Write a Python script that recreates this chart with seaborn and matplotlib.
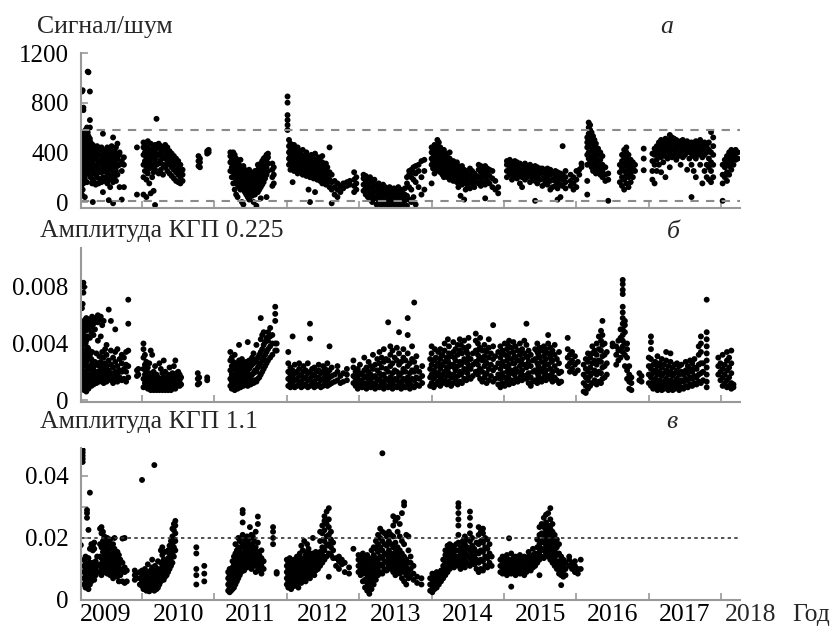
import matplotlib
matplotlib.use("Agg")
import matplotlib.pyplot as plt
import seaborn as sns
import pandas as pd
from matplotlib.ticker import FixedLocator, FixedFormatter, NullFormatter

# ---------------- data (time in years) ----------------
# Panel a: signal / noise
snr_cols = [
    (2009.16, [130, 210, 290, 360, 420, 480]),
    (2009.17, [60, 170, 250, 330, 390, 450, 520, 890]),
    (2009.18, [100, 200, 280, 350, 410, 470, 560, 900]),
    (2009.19, [150, 240, 320, 380, 440, 500, 740, 760]),
    (2009.21, [40, 190, 270, 340, 400, 460, 530]),
    (2009.22, [220, 300, 370, 430, 490, 580]),
    (2009.24, [160, 260, 330, 390, 450, 510, 600]),
    (2009.25, [1050, 230, 310, 380, 440, 500, 560]),
    (2009.26, [1045, 280, 350, 410, 470, 530]),
    (2009.28, [890, 660, 600, 250, 330, 400, 450, 510]),
    (2009.29, [200, 290, 360, 420, 480]),
    (2009.31, [150, 240, 310, 380, 440]),
    (2009.32, [0, 180, 260, 340, 410, 460]),
    (2009.34, [160, 230, 300, 370, 430]),
    (2009.36, [140, 220, 290, 350, 420]),
    (2009.38, [200, 270, 340, 400, 450]),
    (2009.40, [150, 240, 310, 380]),
    (2009.42, [180, 260, 330, 420]),
    (2009.44, [160, 240, 300, 370, 440]),
    (2009.46, [80, 200, 280, 350, 410, 550]),
    (2009.48, [170, 250, 320, 390]),
    (2009.50, [200, 270, 340, 420]),
    (2009.52, [150, 230, 300, 370, 440]),
    (2009.54, [15, 180, 260, 330, 400]),
    (2009.56, [120, 210, 290, 350, 420]),
    (2009.58, [190, 260, 320, 390, 450]),
    (2009.60, [-10, 160, 240, 310, 370, 520]),
    (2009.62, [200, 280, 340, 410]),
    (2009.64, [170, 250, 320, 380, 440]),
    (2009.66, [220, 290, 350, 470]),
    (2009.69, [120, 300, 380, 400]),
    (2009.72, [20, 250, 330]),
    (2009.75, [120, 300, 360]),
    (2009.93, [440, 60]),
    (2010.02, [60, 200, 300, 380, 440, 480]),
    (2010.04, [250, 330, 400, 460]),
    (2010.06, [40, 180, 290, 360, 420]),
    (2010.08, [230, 310, 380, 440, 490]),
    (2010.10, [150, 270, 340, 400]),
    (2010.12, [70, 300, 360, 420, 470]),
    (2010.14, [200, 280, 350, 410]),
    (2010.16, [90, 240, 320, 380, 440]),
    (2010.18, [-24, 260, 340, 400, 460]),
    (2010.20, [670, 300, 370, 430]),
    (2010.23, [230, 310, 380, 440, 470]),
    (2010.26, [260, 340, 400, 450]),
    (2010.29, [220, 300, 370, 420]),
    (2010.32, [280, 350, 410, 460]),
    (2010.35, [250, 320, 390, 440]),
    (2010.38, [230, 300, 360, 410]),
    (2010.41, [210, 280, 340, 390]),
    (2010.44, [190, 260, 320, 370]),
    (2010.47, [170, 240, 300, 350]),
    (2010.50, [160, 220, 270, 330]),
    (2010.53, [150, 200, 250, 300]),
    (2010.56, [170, 220, 260]),
    (2010.78, [290, 330, 370]),
    (2010.80, [280, 320, 350]),
    (2010.90, [390, 410]),
    (2010.92, [400, 420]),
    (2011.22, [250, 320, 370, 400]),
    (2011.24, [200, 280, 340, 390]),
    (2011.26, [150, 240, 300, 360, 400]),
    (2011.28, [100, 200, 260, 320, 380]),
    (2011.30, [60, 170, 230, 290, 350]),
    (2011.32, [40, 140, 200, 260, 320]),
    (2011.34, [120, 180, 240, 300]),
    (2011.36, [100, 160, 220, 280, 340]),
    (2011.38, [0, 130, 190, 250]),
    (2011.40, [-20, 110, 170, 230, 290]),
    (2011.42, [80, 140, 200, 260]),
    (2011.44, [60, 120, 180, 240]),
    (2011.46, [40, 100, 160, 220]),
    (2011.48, [20, 90, 150, 210, 260]),
    (2011.50, [70, 130, 190, 240]),
    (2011.52, [50, 110, 170, 230]),
    (2011.54, [0, 90, 150, 210]),
    (2011.56, [60, 130, 190, 250]),
    (2011.58, [-30, 100, 160, 220]),
    (2011.60, [80, 140, 200, 260, 300]),
    (2011.62, [100, 170, 230, 280]),
    (2011.64, [30, 120, 190, 250, 310]),
    (2011.66, [140, 210, 270, 330]),
    (2011.68, [160, 230, 290, 350]),
    (2011.70, [190, 250, 310, 360]),
    (2011.72, [40, 220, 280, 340, 380]),
    (2011.74, [250, 310, 360, 390]),
    (2011.80, [130, 200, 260, 310]),
    (2011.82, [150, 220, 280]),
    (2012.01, [580, 620, 660, 700, 800, 850]),
    (2012.03, [300, 350, 400, 450, 500]),
    (2012.05, [260, 320, 370, 420, 470]),
    (2012.08, [160, 280, 340, 380, 430]),
    (2012.10, [250, 300, 350, 400, 460]),
    (2012.13, [270, 320, 370, 420]),
    (2012.15, [230, 290, 340, 390, 440]),
    (2012.18, [260, 310, 360, 410]),
    (2012.20, [240, 290, 340, 380]),
    (2012.22, [220, 280, 330, 370, 420]),
    (2012.25, [250, 300, 350]),
    (2012.27, [210, 270, 320, 370, 400]),
    (2012.30, [100, 230, 290, 340]),
    (2012.32, [0, 200, 260, 310, 360]),
    (2012.34, [220, 280, 330, 380]),
    (2012.37, [190, 250, 300, 350]),
    (2012.39, [80, 210, 270, 320, 390]),
    (2012.42, [180, 240, 290, 340]),
    (2012.44, [200, 260, 310, 360]),
    (2012.46, [170, 230, 280, 330]),
    (2012.49, [150, 210, 270, 320, 370]),
    (2012.51, [180, 240, 290]),
    (2012.54, [140, 200, 260, 310]),
    (2012.56, [160, 220, 280]),
    (2012.59, [120, 180, 240, 440]),
    (2012.62, [-10, 100, 160, 220]),
    (2012.66, [60, 120, 170]),
    (2012.70, [40, 100, 150]),
    (2012.74, [80, 130]),
    (2012.78, [110, 150]),
    (2012.83, [130, 160]),
    (2012.87, [140, 170]),
    (2012.93, [80, 130, 180, 240]),
    (2012.96, [100, 150, 200]),
    (2013.06, [90, 140, 190, 220]),
    (2013.09, [60, 110, 160, 210]),
    (2013.12, [40, 90, 140, 190]),
    (2013.15, [20, 70, 120, 170, 200]),
    (2013.18, [0, 60, 110, 160]),
    (2013.21, [30, 80, 130, 180]),
    (2013.24, [-20, 40, 90, 140]),
    (2013.27, [10, 60, 110, 150]),
    (2013.30, [-30, 30, 80, 130]),
    (2013.33, [0, 50, 100, 140]),
    (2013.36, [-20, 20, 70, 120]),
    (2013.39, [10, 60, 100]),
    (2013.42, [-30, 30, 80, 120]),
    (2013.45, [0, 50, 90]),
    (2013.48, [-20, 20, 70, 110]),
    (2013.51, [10, 50, 100]),
    (2013.54, [-30, 30, 80, 120]),
    (2013.57, [0, 50, 100]),
    (2013.60, [-20, 30, 70]),
    (2013.63, [10, 60, 110]),
    (2013.66, [-30, 50, 150, 200]),
    (2013.69, [20, 120, 220, 250]),
    (2013.72, [0, 100, 200, 260]),
    (2013.75, [40, 180, 240, 280]),
    (2013.78, [-20, 160, 230, 290]),
    (2013.82, [120, 250, 300]),
    (2013.86, [60, 200, 330]),
    (2013.90, [100, 250, 340]),
    (2014.00, [150, 300, 350, 400, 440]),
    (2014.02, [270, 330, 390, 420]),
    (2014.04, [230, 300, 360, 410, 460]),
    (2014.06, [250, 320, 380, 430]),
    (2014.08, [280, 340, 400, 450, 500]),
    (2014.10, [260, 320, 370, 420, 480]),
    (2014.12, [240, 300, 350, 400, 440]),
    (2014.15, [220, 280, 340, 390]),
    (2014.17, [200, 260, 320, 370, 420]),
    (2014.20, [230, 290, 340, 390]),
    (2014.22, [200, 260, 310, 360]),
    (2014.25, [180, 240, 300, 350, 400]),
    (2014.27, [210, 270, 320]),
    (2014.30, [170, 230, 280, 330]),
    (2014.32, [190, 250, 300]),
    (2014.35, [160, 220, 270, 320]),
    (2014.37, [120, 180, 240, 290]),
    (2014.40, [50, 160, 210, 260]),
    (2014.42, [140, 190, 240, 290]),
    (2014.45, [20, 160, 210, 260]),
    (2014.47, [100, 150, 200, 250]),
    (2014.50, [130, 180, 230]),
    (2014.53, [110, 170, 220, 270]),
    (2014.56, [150, 200, 250]),
    (2014.59, [120, 180, 230]),
    (2014.62, [160, 210]),
    (2014.65, [150, 200, 260, 300]),
    (2014.68, [130, 190, 240, 290]),
    (2014.71, [160, 220, 270]),
    (2014.74, [30, 140, 200, 250, 290]),
    (2014.77, [170, 230, 270]),
    (2014.80, [150, 210, 260]),
    (2014.84, [120, 190, 250]),
    (2014.88, [100, 170]),
    (2014.92, [70, 120]),
    (2015.04, [200, 250, 300, 330]),
    (2015.08, [220, 270, 310, 340]),
    (2015.11, [180, 240, 290, 320]),
    (2015.15, [210, 260, 300, 330]),
    (2015.18, [190, 240, 280, 320]),
    (2015.22, [150, 220, 270, 310]),
    (2015.25, [120, 200, 250, 290]),
    (2015.29, [180, 230, 280, 310]),
    (2015.32, [200, 250, 290]),
    (2015.36, [160, 220, 260, 300]),
    (2015.39, [190, 240, 280]),
    (2015.43, [10, 170, 220, 260, 290]),
    (2015.46, [150, 200, 250, 280]),
    (2015.50, [180, 230, 270]),
    (2015.53, [130, 190, 240, 270]),
    (2015.57, [160, 210, 250]),
    (2015.60, [140, 190, 230, 270]),
    (2015.64, [100, 170, 220, 260]),
    (2015.67, [120, 180, 230]),
    (2015.71, [130, 170, 210, 250]),
    (2015.74, [20, 110, 160, 200, 240]),
    (2015.78, [40, 140, 190, 230]),
    (2015.81, [450, 130, 180, 220]),
    (2015.85, [110, 160, 200, 250]),
    (2015.92, [130, 170, 220]),
    (2015.96, [100, 150, 200]),
    (2016.00, [120, 180, 250]),
    (2016.04, [220, 260]),
    (2016.07, [280, 310]),
    (2016.15, [60, 170, 300, 380, 440, 480, 520]),
    (2016.17, [640, 600, 550, 500, 450, 400, 350]),
    (2016.19, [620, 580, 520, 460, 400, 330]),
    (2016.21, [560, 500, 440, 380, 320, 280]),
    (2016.23, [530, 480, 420, 360, 300, 250]),
    (2016.25, [500, 450, 390, 330, 270]),
    (2016.27, [470, 410, 350, 290, 230]),
    (2016.30, [430, 380, 320, 260]),
    (2016.33, [400, 340, 280, 220]),
    (2016.36, [370, 300, 250, 200]),
    (2016.40, [280, 220, 170]),
    (2016.44, [230, 180, 10]),
    (2016.60, [160, 240, 300]),
    (2016.63, [130, 200, 270, 330, 380]),
    (2016.66, [100, 180, 250, 310, 360, 420]),
    (2016.69, [150, 220, 290, 350, 400, 440]),
    (2016.72, [120, 200, 260, 320, 380]),
    (2016.75, [160, 230, 290, 340]),
    (2016.78, [200, 270, 320]),
    (2016.81, [250, 300]),
    (2016.93, [430, 350, 256]),
    (2017.05, [180, 250, 330, 390]),
    (2017.08, [150, 300, 380, 430]),
    (2017.11, [250, 340, 410, 450]),
    (2017.14, [300, 380, 440, 480]),
    (2017.17, [240, 360, 420, 470, 500]),
    (2017.20, [320, 400, 450, 490]),
    (2017.23, [200, 370, 430, 480, 510]),
    (2017.26, [350, 410, 460, 500]),
    (2017.29, [280, 390, 440, 490, 540]),
    (2017.32, [360, 420, 470, 520]),
    (2017.35, [380, 430, 480, 510]),
    (2017.38, [340, 410, 460, 500]),
    (2017.41, [370, 430, 470]),
    (2017.44, [300, 390, 440, 490]),
    (2017.47, [360, 410, 460, 500]),
    (2017.50, [380, 430, 470]),
    (2017.53, [260, 400, 450, 490]),
    (2017.56, [350, 420, 460]),
    (2017.59, [40, 300, 390, 440, 480]),
    (2017.62, [250, 370, 420, 470]),
    (2017.65, [200, 350, 410, 450, 490]),
    (2017.68, [380, 430, 470]),
    (2017.71, [300, 400, 450, 500]),
    (2017.74, [150, 360, 420, 470]),
    (2017.77, [250, 380, 440, 480]),
    (2017.80, [200, 300, 400, 450]),
    (2017.83, [180, 280, 350, 420, 480]),
    (2017.86, [160, 250, 320, 400, 563]),
    (2017.89, [200, 300, 380, 450, 520]),
    (2018.02, [10, 150, 220, 300]),
    (2018.05, [200, 280, 340]),
    (2018.08, [170, 240, 310, 370]),
    (2018.11, [220, 290, 350, 400]),
    (2018.14, [260, 330, 390, 420]),
    (2018.17, [300, 360, 410]),
    (2018.20, [340, 390, 420]),
    (2018.23, [350, 400]),
]

# Panel b: amplitude KGP 0.225 (units of 0.001)
amp225_cols = [
    (2009.16, [1.2, 1.6, 2.2, 3.0, 3.8, 4.5]),
    (2009.17, [0.9, 1.5, 2.1, 2.9, 3.6, 4.4, 5.1, 6.5]),
    (2009.18, [1.3, 1.9, 2.6, 3.3, 4.1, 4.8, 5.4, 6.8]),
    (2009.19, [1.0, 1.7, 2.4, 3.1, 3.9, 4.6, 5.2, 7.6, 8.3]),
    (2009.20, [0.7, 1.4, 2.0, 2.8, 3.5, 4.3, 5.0, 5.6, 8.0]),
    (2009.22, [1.1, 1.8, 2.5, 3.2, 4.0, 4.9, 5.7]),
    (2009.23, [0.6, 1.3, 2.0, 2.7, 3.4, 4.2, 5.3, 5.8]),
    (2009.25, [1.0, 1.6, 2.3, 3.0, 3.7, 4.5, 5.5]),
    (2009.26, [0.8, 1.5, 2.2, 2.9, 3.6, 5.0, 5.7]),
    (2009.28, [1.2, 1.8, 2.4, 3.2, 4.4, 5.3]),
    (2009.30, [1.0, 1.6, 2.2, 2.9, 4.8, 5.6]),
    (2009.31, [1.3, 1.9, 2.6, 3.4, 5.2, 5.9]),
    (2009.33, [1.1, 1.7, 2.3, 4.6, 5.4]),
    (2009.35, [1.4, 2.0, 2.7, 5.0, 5.8]),
    (2009.37, [1.2, 1.8, 2.5, 3.3, 5.6]),
    (2009.39, [1.5, 2.0, 2.6, 4.2, 5.5, 6.0]),
    (2009.41, [1.3, 1.8, 2.4, 3.1, 5.7]),
    (2009.43, [1.6, 2.1, 2.7, 4.5, 5.9]),
    (2009.45, [1.4, 1.9, 2.5, 3.4, 5.3]),
    (2009.47, [1.2, 1.7, 2.3, 3.0, 5.6]),
    (2009.49, [1.5, 2.0, 2.6, 3.6]),
    (2009.51, [1.3, 1.8, 2.4, 3.2, 3.9]),
    (2009.54, [1.6, 2.1, 2.8, 6.4]),
    (2009.57, [1.4, 1.9, 2.5, 3.5, 5.6]),
    (2009.60, [1.2, 1.7, 2.3, 3.0]),
    (2009.63, [1.5, 2.0, 2.7, 3.4, 5.0]),
    (2009.66, [1.3, 1.8, 2.4, 3.6]),
    (2009.69, [1.6, 2.1, 2.9]),
    (2009.72, [1.4, 2.0, 2.6, 3.2]),
    (2009.75, [1.5, 2.2, 3.0]),
    (2009.78, [1.3, 2.0, 2.5, 3.4]),
    (2009.81, [1.6, 2.4, 3.5, 5.4, 7.1]),
    (2009.93, [1.7, 2.1]),
    (2009.95, [1.8, 2.2]),
    (2010.02, [0.9, 1.5, 2.2, 3.0, 3.6, 4.0]),
    (2010.04, [1.2, 1.8, 2.5, 3.2]),
    (2010.06, [1.0, 1.4, 2.0, 2.7]),
    (2010.08, [0.8, 1.2, 1.7, 2.3]),
    (2010.10, [0.9, 1.3, 1.9, 2.6]),
    (2010.12, [0.7, 1.1, 1.5, 3.5]),
    (2010.14, [0.8, 1.2, 1.8, 3.2]),
    (2010.16, [0.7, 1.0, 1.4, 2.0]),
    (2010.18, [0.8, 1.1, 1.6, 2.4]),
    (2010.20, [0.7, 1.0, 1.3, 1.8]),
    (2010.22, [0.8, 1.2, 1.6]),
    (2010.24, [0.7, 1.0, 1.4, 2.6]),
    (2010.26, [0.8, 1.1, 1.5, 2.2]),
    (2010.28, [0.7, 1.0, 1.3, 1.9]),
    (2010.30, [0.8, 1.2, 1.6, 2.8]),
    (2010.32, [0.7, 1.0, 1.4, 2.0]),
    (2010.34, [0.8, 1.1, 1.5]),
    (2010.36, [0.7, 1.0, 1.3, 1.8]),
    (2010.38, [0.8, 1.2, 1.6, 2.3]),
    (2010.40, [0.7, 1.0, 1.4]),
    (2010.42, [0.8, 1.1, 1.5, 1.9]),
    (2010.44, [0.9, 1.2, 1.6, 2.4]),
    (2010.46, [0.8, 1.3, 1.7, 2.8]),
    (2010.48, [1.0, 1.4, 1.9]),
    (2010.50, [1.1, 1.5, 2.0]),
    (2010.52, [1.0, 1.4, 1.8]),
    (2010.54, [1.1, 1.6]),
    (2010.77, [1.1, 1.5, 1.9]),
    (2010.79, [1.2, 1.6]),
    (2010.90, [1.4, 1.6]),
    (2011.22, [1.0, 1.5, 2.1, 2.8, 3.4]),
    (2011.24, [0.8, 1.3, 1.8, 2.4, 3.0]),
    (2011.26, [1.1, 1.6, 2.2, 2.7]),
    (2011.28, [0.7, 1.2, 1.7, 2.3, 3.2]),
    (2011.30, [1.0, 1.5, 2.0, 2.6]),
    (2011.32, [0.8, 1.3, 1.9, 2.4]),
    (2011.34, [1.1, 1.6, 2.1, 2.8, 3.9]),
    (2011.36, [0.9, 1.4, 1.9, 2.5]),
    (2011.38, [1.2, 1.7, 2.2, 2.9]),
    (2011.40, [1.0, 1.5, 2.0, 2.6]),
    (2011.42, [1.3, 1.8, 2.3]),
    (2011.44, [1.1, 1.6, 2.1, 2.7]),
    (2011.46, [1.0, 1.4, 1.9, 2.5, 4.1]),
    (2011.48, [1.2, 1.7, 2.2, 2.8]),
    (2011.50, [1.1, 1.6, 2.4]),
    (2011.52, [1.3, 1.8, 2.5, 3.0]),
    (2011.54, [1.2, 1.9, 2.6, 3.3]),
    (2011.56, [1.4, 2.1, 2.8]),
    (2011.58, [1.3, 2.0, 2.7, 3.9]),
    (2011.60, [1.5, 2.3, 3.0]),
    (2011.62, [1.6, 2.4, 3.2]),
    (2011.64, [1.8, 2.6, 3.4, 4.3, 5.8]),
    (2011.66, [2.0, 2.8, 3.6, 4.6]),
    (2011.68, [2.2, 3.0, 3.9, 4.8]),
    (2011.70, [2.4, 3.2, 4.1]),
    (2011.72, [2.6, 3.4, 4.4]),
    (2011.74, [2.8, 3.6, 4.2, 4.8]),
    (2011.77, [3.0, 3.8, 4.5, 5.1]),
    (2011.80, [3.2, 4.0, 4.6]),
    (2011.84, [3.5, 4.0, 5.6, 6.1, 6.6]),
    (2011.86, [3.5, 4.0]),
    (2012.02, [1.0, 1.5, 2.0, 2.6, 3.4]),
    (2012.05, [0.9, 1.3, 1.8, 2.3]),
    (2012.08, [1.1, 1.6, 2.1, 4.5]),
    (2012.11, [0.9, 1.4, 1.9, 2.5]),
    (2012.14, [1.0, 1.5, 2.0]),
    (2012.17, [1.2, 1.7, 2.2, 2.6]),
    (2012.20, [0.9, 1.3, 1.8]),
    (2012.23, [1.0, 1.5, 2.0, 2.4]),
    (2012.26, [1.1, 1.6, 2.1]),
    (2012.29, [0.9, 1.4, 1.9, 2.6]),
    (2012.32, [1.0, 1.5, 2.0, 4.35, 5.4]),
    (2012.35, [1.2, 1.7, 2.2]),
    (2012.38, [0.9, 1.3, 1.8, 2.3]),
    (2012.41, [1.0, 1.5, 2.0]),
    (2012.44, [1.1, 1.6, 2.1, 2.5]),
    (2012.47, [0.9, 1.4, 1.9]),
    (2012.50, [1.0, 1.5, 2.0, 2.4]),
    (2012.53, [1.2, 1.7, 2.2]),
    (2012.56, [1.0, 1.4, 1.9, 2.6]),
    (2012.59, [1.1, 1.6, 2.1, 3.8]),
    (2012.62, [1.2, 1.7, 2.3]),
    (2012.66, [1.3, 1.8]),
    (2012.70, [1.4, 2.0, 2.4]),
    (2012.74, [1.2, 1.7]),
    (2012.78, [1.3, 1.9]),
    (2012.83, [1.4, 1.8, 2.2]),
    (2012.92, [1.2, 1.7, 2.3, 2.8]),
    (2012.95, [1.0, 1.5, 2.0]),
    (2012.98, [0.8, 1.2, 1.7, 2.2]),
    (2013.01, [1.0, 1.4, 1.9, 2.5]),
    (2013.04, [0.9, 1.3, 1.8]),
    (2013.07, [1.1, 1.6, 2.1, 3.0]),
    (2013.10, [0.8, 1.2, 1.7, 2.3]),
    (2013.13, [1.0, 1.5, 2.0, 2.7]),
    (2013.16, [0.9, 1.3, 1.8, 2.4]),
    (2013.19, [1.1, 1.6, 2.2, 3.2]),
    (2013.22, [0.8, 1.2, 1.7, 2.5]),
    (2013.25, [1.0, 1.5, 2.1, 2.9]),
    (2013.28, [0.9, 1.4, 1.9, 2.6, 3.4]),
    (2013.31, [1.1, 1.7, 2.3, 3.0]),
    (2013.34, [0.8, 1.3, 1.8, 2.7, 3.6]),
    (2013.37, [1.0, 1.5, 2.2, 2.9]),
    (2013.40, [0.9, 1.4, 2.0, 2.8, 5.5]),
    (2013.43, [1.1, 1.6, 2.4, 3.2, 3.8]),
    (2013.46, [0.8, 1.3, 1.9, 2.6, 3.5]),
    (2013.49, [1.0, 1.5, 2.1, 3.0]),
    (2013.52, [0.9, 1.4, 2.0, 2.8, 3.7]),
    (2013.55, [1.1, 1.7, 2.5, 3.3, 4.8]),
    (2013.58, [0.8, 1.3, 1.9, 2.7]),
    (2013.61, [1.0, 1.5, 2.2, 3.0, 3.6]),
    (2013.64, [0.9, 1.4, 2.0, 2.8]),
    (2013.67, [1.1, 1.6, 2.4, 3.3, 4.6, 5.8]),
    (2013.70, [0.8, 1.3, 1.9, 2.6]),
    (2013.73, [1.0, 1.5, 2.1, 2.9, 3.8]),
    (2013.76, [0.9, 1.4, 2.0, 2.7, 6.9]),
    (2013.79, [1.1, 1.6, 2.3, 3.1]),
    (2013.83, [1.0, 1.5, 2.0]),
    (2013.87, [1.2, 1.7, 2.4]),
    (2013.98, [1.0, 1.6, 2.2, 2.9]),
    (2014.00, [1.2, 1.8, 2.5, 3.3, 3.8]),
    (2014.03, [0.9, 1.5, 2.1, 2.8]),
    (2014.045, [2.0, 2.9, 3.6]),
    (2014.06, [1.1, 1.7, 2.4, 3.0]),
    (2014.09, [1.3, 1.9, 2.6, 3.4]),
    (2014.12, [1.0, 1.6, 2.2, 2.9, 3.6]),
    (2014.135, [1.5, 2.4, 3.1]),
    (2014.15, [1.2, 1.8, 2.5, 3.2]),
    (2014.18, [1.4, 2.0, 2.7, 3.5, 4.0]),
    (2014.21, [1.1, 1.7, 2.3, 3.0]),
    (2014.225, [2.2, 2.8, 4.3]),
    (2014.24, [1.3, 1.9, 2.6, 3.3, 3.8]),
    (2014.27, [1.0, 1.6, 2.4, 3.1]),
    (2014.30, [1.2, 1.8, 2.5, 3.4, 4.1]),
    (2014.315, [1.6, 2.3, 3.0]),
    (2014.33, [1.4, 2.1, 2.8, 3.6]),
    (2014.36, [1.1, 1.7, 2.4, 3.2, 3.9]),
    (2014.39, [1.3, 2.0, 2.7, 3.5, 4.3]),
    (2014.405, [1.8, 2.5, 3.9]),
    (2014.42, [1.2, 1.9, 2.6, 3.3]),
    (2014.45, [1.5, 2.2, 2.9, 3.7, 4.2]),
    (2014.48, [1.4, 2.1, 2.8, 3.5]),
    (2014.495, [1.9, 2.6, 3.3]),
    (2014.51, [1.6, 2.3, 3.0, 3.8, 4.4]),
    (2014.54, [1.5, 2.2, 2.9]),
    (2014.57, [1.7, 2.5, 3.3]),
    (2014.61, [2.0, 2.7, 3.5, 4.2, 4.7]),
    (2014.64, [1.8, 2.5, 3.2, 4.0]),
    (2014.655, [2.1, 2.9, 3.6]),
    (2014.67, [1.5, 2.2, 3.0, 3.7, 4.4]),
    (2014.70, [1.3, 2.0, 2.8, 3.5]),
    (2014.73, [1.6, 2.4, 3.1, 3.9]),
    (2014.745, [1.8, 2.7, 3.5]),
    (2014.76, [1.2, 1.9, 2.6, 3.4]),
    (2014.79, [1.4, 2.2, 3.0, 3.7, 4.3]),
    (2014.82, [1.7, 2.5, 3.3]),
    (2014.85, [1.3, 2.1, 2.9, 3.8, 5.3]),
    (2014.88, [1.5, 2.3, 3.1]),
    (2014.92, [1.1, 1.8, 2.6, 3.4]),
    (2014.95, [0.9, 1.5, 2.2, 3.0, 3.8]),
    (2014.965, [1.7, 2.5, 3.3]),
    (2014.98, [1.2, 1.9, 2.7, 3.5]),
    (2015.01, [1.0, 1.6, 2.4, 3.2, 4.0]),
    (2015.04, [1.3, 2.0, 2.8, 3.6]),
    (2015.055, [1.6, 2.3, 3.0, 3.9]),
    (2015.07, [1.1, 1.8, 2.5, 3.3, 4.2]),
    (2015.10, [1.4, 2.1, 2.9, 3.7]),
    (2015.13, [1.2, 1.9, 2.6, 3.4, 4.1]),
    (2015.145, [1.8, 2.6, 3.1]),
    (2015.16, [1.5, 2.2, 3.0, 3.8]),
    (2015.19, [1.3, 2.0, 2.8, 3.5]),
    (2015.22, [1.6, 2.4, 3.2, 4.0]),
    (2015.235, [1.9, 2.7, 3.5]),
    (2015.25, [1.4, 2.1, 2.9, 3.6]),
    (2015.28, [1.7, 2.5, 3.3, 4.2]),
    (2015.31, [1.5, 2.3, 3.1, 3.9, 5.4]),
    (2015.325, [1.8, 2.5, 3.0]),
    (2015.34, [1.2, 1.9, 2.7, 3.5]),
    (2015.37, [1.0, 1.6, 2.4, 3.2]),
    (2015.40, [1.3, 2.0, 2.8]),
    (2015.43, [1.4, 2.1, 2.9, 3.6]),
    (2015.46, [1.2, 1.9, 2.6, 3.4, 4.0]),
    (2015.475, [1.7, 2.4, 3.2]),
    (2015.49, [1.5, 2.2, 3.0, 3.7]),
    (2015.52, [1.3, 2.0, 2.7, 3.5]),
    (2015.55, [1.6, 2.3, 3.1, 3.8]),
    (2015.565, [1.9, 2.6, 3.4]),
    (2015.58, [1.4, 2.1, 2.9, 3.6]),
    (2015.61, [1.7, 2.5, 3.3, 4.0, 4.6]),
    (2015.64, [1.5, 2.2, 3.0, 3.7]),
    (2015.655, [1.8, 2.7, 3.3]),
    (2015.67, [1.3, 2.0, 2.8, 3.5]),
    (2015.70, [1.6, 2.4, 3.2, 3.9]),
    (2015.73, [1.4, 2.1, 2.9]),
    (2015.76, [1.2, 1.9, 2.6, 3.4]),
    (2015.79, [1.3, 2.0]),
    (2015.88, [2.4, 3.0, 3.6, 4.4]),
    (2015.91, [2.0, 2.6, 3.2]),
    (2015.94, [2.2, 2.8, 3.4]),
    (2015.98, [1.9, 2.5, 3.1]),
    (2016.02, [2.1, 2.7]),
    (2016.10, [0.6, 1.2, 1.8, 2.5]),
    (2016.13, [0.5, 1.0, 1.6, 2.2, 2.9]),
    (2016.16, [0.8, 1.4, 2.0, 2.7, 3.3]),
    (2016.19, [1.0, 1.7, 2.3, 3.0]),
    (2016.22, [1.2, 1.9, 2.6, 3.3, 3.8]),
    (2016.25, [1.4, 2.1, 2.8, 3.5]),
    (2016.28, [1.1, 1.8, 2.5, 3.2, 4.0]),
    (2016.31, [1.3, 2.0, 2.8, 3.6, 4.5]),
    (2016.34, [1.2, 1.9, 2.7, 3.5, 4.2, 4.9]),
    (2016.36, [1.5, 2.3, 3.1, 3.9, 4.6, 5.6]),
    (2016.39, [1.6, 2.4, 3.2, 4.0]),
    (2016.42, [1.8, 2.6, 3.4]),
    (2016.50, [3.8, 4.0]),
    (2016.55, [2.5, 3.2, 3.8]),
    (2016.58, [2.8, 3.5, 4.2]),
    (2016.61, [3.0, 3.6, 4.4, 5.0]),
    (2016.64, [3.4, 3.8, 4.2, 4.6, 5.0, 5.4, 5.8, 6.2, 6.6, 7.5, 7.8, 8.2, 8.5]),
    (2016.67, [2.4, 3.2, 4.0, 4.8, 5.3, 5.6]),
    (2016.70, [1.5, 2.1, 3.0, 3.6, 4.0]),
    (2016.73, [0.8, 1.3, 1.8, 2.4]),
    (2016.76, [0.7, 1.2, 1.6]),
    (2016.87, [1.4, 1.9]),
    (2016.90, [1.3, 1.7]),
    (2017.00, [1.2, 1.8, 2.4, 3.0]),
    (2017.03, [1.0, 1.6, 2.2, 2.9, 3.6, 4.1, 4.5]),
    (2017.06, [0.8, 1.3, 1.9, 2.5]),
    (2017.09, [1.0, 1.5, 2.1, 2.7]),
    (2017.12, [0.7, 1.2, 1.8, 2.4, 3.1]),
    (2017.15, [0.9, 1.4, 2.0, 2.6]),
    (2017.18, [0.7, 1.1, 1.7, 2.3, 2.9]),
    (2017.21, [0.8, 1.3, 1.9, 2.5]),
    (2017.24, [1.0, 1.5, 2.1, 2.8, 3.4]),
    (2017.27, [0.7, 1.2, 1.8, 2.4]),
    (2017.30, [0.9, 1.4, 2.0, 2.7, 3.3]),
    (2017.33, [0.7, 1.1, 1.7, 2.3]),
    (2017.36, [0.8, 1.3, 1.9, 2.5]),
    (2017.39, [1.0, 1.5, 2.1, 2.6]),
    (2017.42, [0.7, 1.2, 1.8, 2.4]),
    (2017.45, [0.9, 1.4, 2.0, 2.5]),
    (2017.48, [0.8, 1.3, 1.8]),
    (2017.51, [1.0, 1.5, 2.1, 2.7]),
    (2017.54, [0.9, 1.4, 1.9, 2.4]),
    (2017.57, [1.1, 1.6, 2.2, 2.8]),
    (2017.60, [1.0, 1.5, 2.0, 2.6]),
    (2017.63, [1.2, 1.7, 2.3, 2.9]),
    (2017.66, [1.1, 1.6, 2.2]),
    (2017.69, [1.3, 1.8, 2.5, 3.2, 3.8]),
    (2017.72, [1.2, 1.9, 2.6, 3.4, 4.0, 4.5]),
    (2017.75, [1.4, 2.0, 2.6]),
    (2017.80, [0.9, 1.3, 1.8, 2.3, 2.8, 3.3, 3.8, 4.3, 4.8, 7.1]),
    (2017.96, [1.8, 2.4, 3.0]),
    (2017.99, [1.4, 2.0, 2.6]),
    (2018.02, [1.0, 1.6, 2.2, 3.2]),
    (2018.05, [1.2, 1.8, 2.5]),
    (2018.08, [0.9, 1.4, 2.1, 2.8, 3.4]),
    (2018.11, [1.0, 1.6, 2.3, 3.0]),
    (2018.14, [0.8, 1.2, 1.9, 2.6, 3.5]),
    (2018.17, [0.9, 1.1]),
]

# Panel c: amplitude KGP 1.1 (units of 0.001)
amp11_cols = [
    (2009.155, [17.7]),
    (2009.18, [48.4, 47.5, 46.5, 45.5, 44.5]),
    (2009.20, [5.0, 7.0, 9.0, 11.0, 13.0]),
    (2009.22, [4.0, 6.0, 8.0, 10.0, 12.0, 14.0]),
    (2009.24, [5.5, 7.5, 9.5, 11.5, 29.0, 28.0, 26.5]),
    (2009.26, [3.5, 6.0, 8.5, 10.5, 13.5, 22.6]),
    (2009.28, [5.0, 7.0, 9.0, 12.0, 16.5, 34.6]),
    (2009.30, [6.0, 8.0, 10.5, 17.0, 18.0]),
    (2009.32, [7.0, 9.5, 12.0, 16.0, 17.5]),
    (2009.34, [6.5, 8.5, 11.0, 16.5, 18.5]),
    (2009.36, [8.0, 10.0, 12.5]),
    (2009.38, [9.0, 11.0, 14.0]),
    (2009.42, [9.0, 11.5, 14.0, 18.0, 23.0]),
    (2009.44, [8.0, 10.5, 13.5, 17.0, 21.5, 23.5]),
    (2009.46, [10.0, 12.5, 15.5, 19.0, 22.0]),
    (2009.48, [9.0, 11.0, 14.5, 17.5, 20.5]),
    (2009.50, [10.5, 13.0, 16.0, 19.0]),
    (2009.52, [8.5, 11.5, 14.0, 17.0, 20.0]),
    (2009.54, [9.5, 12.0, 15.0, 18.5]),
    (2009.56, [8.0, 10.5, 13.0, 16.5, 19.5]),
    (2009.58, [9.0, 11.5, 14.5, 17.5]),
    (2009.60, [7.0, 9.5, 12.0, 15.0, 18.0]),
    (2009.62, [8.5, 10.5, 13.5, 16.5, 20.0]),
    (2009.64, [9.0, 11.0, 14.0]),
    (2009.66, [7.5, 10.0, 12.5, 15.5]),
    (2009.68, [6.0, 9.0, 11.5, 14.5]),
    (2009.70, [8.0, 10.0, 13.0]),
    (2009.73, [6.0, 9.5, 12.0, 19.8]),
    (2009.76, [5.5, 9.0, 10.5, 20.0]),
    (2009.79, [6.0, 9.5]),
    (2009.90, [6.5, 8.0, 9.5]),
    (2009.92, [7.0, 8.5]),
    (2009.97, [5.0, 7.0, 9.0]),
    (2010.00, [4.5, 6.0, 7.5, 9.5, 38.7]),
    (2010.02, [3.5, 5.5, 7.0, 8.5]),
    (2010.04, [4.0, 6.0, 8.0, 10.0]),
    (2010.06, [3.0, 5.0, 6.5, 8.5]),
    (2010.08, [4.5, 6.0, 7.5, 9.0, 11.5]),
    (2010.10, [2.8, 4.5, 6.5, 8.0]),
    (2010.12, [3.5, 5.5, 7.0, 9.5]),
    (2010.14, [4.0, 6.0, 8.0, 10.5, 13.0]),
    (2010.17, [3.0, 5.0, 7.0, 9.0, 43.5]),
    (2010.18, [4.5, 6.5, 8.5, 11.0]),
    (2010.20, [3.5, 5.5, 7.5, 9.5]),
    (2010.22, [4.0, 6.0, 8.0, 10.0, 12.5]),
    (2010.24, [5.0, 7.0, 9.0]),
    (2010.26, [6.0, 8.0, 10.0, 12.0, 16.0]),
    (2010.28, [7.0, 9.0, 11.5, 14.5, 17.0]),
    (2010.30, [6.5, 8.5, 10.5, 13.0]),
    (2010.32, [7.5, 9.5, 12.0, 15.5]),
    (2010.34, [8.0, 10.0, 12.5]),
    (2010.36, [9.0, 11.0, 13.5, 16.0]),
    (2010.38, [10.0, 12.5, 15.0, 17.5]),
    (2010.40, [11.0, 13.5, 16.5, 19.0]),
    (2010.42, [12.0, 15.0, 18.0, 20.5, 23.0]),
    (2010.44, [14.0, 17.0, 19.5, 22.5, 24.5]),
    (2010.46, [16.0, 19.0, 21.5, 24.0, 25.5]),
    (2010.75, [5.0, 8.0, 10.0, 15.0, 17.0]),
    (2010.86, [6.0, 8.5, 11.0]),
    (2011.19, [3.0, 5.0, 7.0, 9.0]),
    (2011.21, [2.5, 4.0, 6.0, 8.0, 10.0]),
    (2011.23, [3.0, 5.0, 7.5, 9.5]),
    (2011.25, [3.5, 5.5, 8.0, 10.5, 12.5]),
    (2011.27, [4.0, 6.5, 9.0, 11.5, 14.0]),
    (2011.29, [5.0, 7.5, 10.0, 12.5, 15.0, 18.0]),
    (2011.31, [6.0, 8.5, 11.0, 13.5, 16.0]),
    (2011.33, [7.0, 9.5, 12.0, 14.5, 17.0, 20.0]),
    (2011.35, [8.0, 10.5, 13.0, 16.0, 19.0]),
    (2011.37, [9.0, 11.5, 14.0, 17.0, 20.0]),
    (2011.39, [10.0, 12.5, 15.0, 18.0, 21.0, 25.0, 28.0, 29.0]),
    (2011.41, [9.5, 12.0, 14.5, 17.5, 20.0]),
    (2011.43, [11.0, 13.5, 16.0, 19.0]),
    (2011.45, [10.5, 13.0, 15.5, 18.5, 20.5]),
    (2011.47, [12.0, 14.5, 17.0, 19.5]),
    (2011.49, [11.5, 14.0, 16.5, 20.0, 23.5]),
    (2011.51, [10.0, 13.0, 15.5, 18.0, 21.0]),
    (2011.53, [12.5, 15.0, 17.5, 20.5]),
    (2011.55, [11.0, 13.5, 16.0, 19.0]),
    (2011.57, [9.0, 12.0, 14.5, 17.0, 22.0]),
    (2011.60, [10.5, 13.0, 15.5, 18.5, 24.5, 26.9]),
    (2011.62, [9.5, 12.0, 14.5]),
    (2011.65, [8.5, 11.0, 13.5, 16.0]),
    (2011.68, [10.0, 12.5]),
    (2011.81, [18.0, 20.0, 22.0, 23.5]),
    (2011.86, [9.0, 8.5]),
    (2012.00, [5.0, 7.0, 9.0, 11.0, 13.0]),
    (2012.02, [4.0, 6.0, 8.0, 10.0, 12.0]),
    (2012.04, [5.5, 7.5, 9.5, 11.5, 13.5]),
    (2012.06, [3.5, 6.0, 8.5, 10.5]),
    (2012.08, [5.0, 7.0, 9.0, 11.0, 12.5]),
    (2012.10, [4.5, 6.5, 8.5, 10.0, 13.0]),
    (2012.12, [6.0, 8.0, 10.0, 12.0]),
    (2012.14, [5.0, 7.5, 9.5, 11.5, 14.0]),
    (2012.16, [4.0, 6.5, 8.5, 10.5, 12.5]),
    (2012.18, [6.0, 8.0, 10.0, 12.0, 15.0]),
    (2012.20, [5.5, 7.5, 9.5, 11.5, 13.5, 17.5]),
    (2012.22, [6.5, 8.5, 10.5, 12.5, 16.0]),
    (2012.24, [7.0, 9.0, 11.0, 13.0, 19.0]),
    (2012.26, [6.0, 8.5, 10.5, 12.5, 14.5]),
    (2012.28, [7.5, 9.5, 11.5, 13.5, 15.5, 18.0]),
    (2012.30, [8.0, 10.0, 12.0, 14.0, 16.5]),
    (2012.32, [7.0, 9.5, 11.5, 13.5, 15.0]),
    (2012.34, [8.5, 10.5, 12.5, 14.5]),
    (2012.36, [9.0, 11.0, 13.0, 15.0, 20.0]),
    (2012.38, [8.0, 10.0, 12.0, 14.0]),
    (2012.40, [9.5, 11.5, 13.5, 15.5]),
    (2012.43, [10.0, 12.0, 14.0]),
    (2012.46, [11.0, 13.0, 15.5, 19.0, 22.0]),
    (2012.49, [12.0, 14.5, 17.0, 21.5, 24.0]),
    (2012.52, [13.0, 16.0, 19.0, 22.5, 25.5, 27.0]),
    (2012.55, [14.0, 17.5, 20.5, 24.5, 28.5]),
    (2012.58, [7.5, 15.0, 18.0, 21.0, 23.5, 26.0, 29.6]),
    (2012.61, [14.5, 17.0, 19.5, 22.0]),
    (2012.64, [13.5, 16.0, 18.5]),
    (2012.68, [11.0, 13.5]),
    (2012.72, [10.0, 12.5, 14.0]),
    (2012.76, [11.5, 13.0]),
    (2012.80, [9.0, 12.0]),
    (2012.86, [8.5, 10.5]),
    (2012.92, [16.5]),
    (2012.99, [9.0, 11.0, 13.0, 14.5]),
    (2013.02, [8.0, 10.0, 12.0, 14.0]),
    (2013.05, [6.0, 8.5, 10.5, 12.5, 15.0]),
    (2013.08, [4.0, 6.5, 9.0, 11.0, 13.5]),
    (2013.11, [3.0, 5.5, 8.0, 10.0, 12.0, 14.5]),
    (2013.14, [2.0, 4.5, 7.0, 9.5, 11.5, 13.5]),
    (2013.17, [3.5, 6.0, 8.5, 10.5, 13.0, 16.0]),
    (2013.20, [5.0, 7.5, 10.0, 12.0, 14.5, 17.0]),
    (2013.23, [6.5, 9.0, 11.5, 13.5, 16.5, 19.0]),
    (2013.26, [8.0, 10.5, 13.0, 15.5, 18.0, 21.0]),
    (2013.29, [9.0, 11.5, 14.0, 17.0, 20.0, 23.0]),
    (2013.32, [8.5, 11.0, 13.5, 16.0, 19.0, 22.0, 47.3]),
    (2013.35, [10.0, 12.5, 15.0, 18.0, 21.5]),
    (2013.38, [9.5, 12.0, 14.5, 17.5, 20.5]),
    (2013.41, [11.0, 13.5, 16.0, 19.0, 22.0]),
    (2013.44, [10.0, 12.5, 15.0, 18.0, 21.0]),
    (2013.47, [9.0, 11.5, 14.0, 17.0, 20.5, 24.0, 27.0]),
    (2013.50, [8.0, 10.5, 13.0, 15.5, 18.5, 25.5]),
    (2013.53, [9.5, 12.0, 14.5, 17.0, 22.0, 26.5]),
    (2013.56, [8.5, 11.0, 13.5, 16.0, 20.5, 24.5]),
    (2013.59, [7.0, 10.0, 12.5, 15.0, 19.0, 28.0]),
    (2013.62, [6.0, 9.0, 11.5, 14.0, 18.0, 30.5, 31.5]),
    (2013.65, [5.0, 8.0, 10.5, 13.0, 21.0]),
    (2013.68, [7.0, 9.5, 12.0, 16.0, 20.5]),
    (2013.71, [8.0, 10.0, 12.0, 14.0]),
    (2013.75, [6.5, 8.5, 11.0]),
    (2013.80, [5.5, 7.5]),
    (2013.86, [5.0, 7.0]),
    (2013.98, [3.0, 5.0, 7.0]),
    (2014.01, [2.5, 4.5, 6.5, 8.5]),
    (2014.04, [3.5, 5.5, 7.5]),
    (2014.07, [4.0, 6.0, 8.0, 9.0]),
    (2014.10, [5.0, 7.0, 8.5]),
    (2014.13, [6.0, 8.0, 9.5]),
    (2014.16, [7.0, 9.0, 11.0, 13.0]),
    (2014.19, [8.0, 10.0, 12.0, 14.5, 16.0]),
    (2014.22, [9.0, 11.0, 13.5, 15.5, 17.5]),
    (2014.25, [10.0, 12.0, 14.0, 16.5, 18.0]),
    (2014.28, [11.0, 13.0, 15.0, 17.5]),
    (2014.31, [10.5, 12.5, 14.5, 16.5]),
    (2014.34, [12.0, 14.0, 16.0, 18.0]),
    (2014.37, [11.0, 13.5, 16.0, 18.5, 21.0, 24.0, 26.0, 28.0, 30.0, 31.2]),
    (2014.40, [10.0, 12.5, 15.0, 17.5]),
    (2014.43, [11.5, 14.0, 16.5, 19.0]),
    (2014.46, [10.5, 13.0, 15.5, 18.0, 20.5]),
    (2014.49, [12.0, 14.5, 17.0, 19.5]),
    (2014.53, [11.0, 13.5, 16.0, 19.0, 21.5, 24.0, 26.5, 28.5]),
    (2014.56, [12.5, 15.0, 17.5, 20.0]),
    (2014.59, [11.5, 14.0, 16.5]),
    (2014.62, [10.0, 13.0, 15.5, 18.5]),
    (2014.65, [9.0, 12.0, 15.0, 18.0, 21.0, 23.5]),
    (2014.68, [10.0, 13.0, 16.0, 19.0, 22.0]),
    (2014.71, [9.5, 12.5, 15.5, 18.5, 21.5, 23.0]),
    (2014.74, [11.0, 14.0, 17.0, 20.0]),
    (2014.77, [10.5, 13.5, 16.5, 19.5]),
    (2014.80, [12.0, 15.0, 18.0]),
    (2014.83, [11.0, 14.0]),
    (2014.95, [9.0, 11.0, 13.0]),
    (2014.98, [8.5, 10.5, 12.5, 14.0]),
    (2015.01, [9.5, 11.5, 13.5]),
    (2015.04, [8.0, 10.0, 12.0, 14.5]),
    (2015.07, [9.0, 11.0, 13.0, 19.9]),
    (2015.10, [4.3, 8.5, 10.5, 12.5, 15.0]),
    (2015.13, [9.5, 11.5, 13.5]),
    (2015.16, [8.0, 10.0, 12.0, 14.0]),
    (2015.19, [9.0, 11.0, 13.0]),
    (2015.22, [8.5, 10.5, 12.5, 14.5]),
    (2015.25, [9.5, 11.5, 13.0]),
    (2015.28, [8.0, 10.0, 12.0, 14.0]),
    (2015.31, [9.0, 11.0, 13.5]),
    (2015.34, [10.0, 12.0, 14.0, 15.5]),
    (2015.37, [9.5, 11.5, 13.5]),
    (2015.40, [10.5, 12.5, 14.5, 16.5]),
    (2015.43, [11.0, 13.0, 15.0]),
    (2015.46, [12.0, 14.5, 17.0, 19.5]),
    (2015.49, [8.0, 13.0, 15.5, 18.0, 21.0, 23.5]),
    (2015.52, [14.0, 16.5, 19.0, 21.5, 24.5]),
    (2015.55, [13.5, 16.0, 18.5, 21.0, 23.5, 26.5]),
    (2015.58, [15.0, 17.5, 20.0, 22.5, 25.0, 27.5]),
    (2015.61, [14.0, 16.5, 19.0, 21.5, 24.0, 28.0]),
    (2015.64, [13.0, 15.5, 18.0, 20.5, 23.0, 26.0, 29.6]),
    (2015.67, [12.0, 14.5, 17.0, 19.5, 22.0, 24.5]),
    (2015.70, [11.0, 13.5, 16.0, 18.5, 21.0]),
    (2015.73, [10.0, 12.0, 14.5, 17.0, 19.5]),
    (2015.76, [8.5, 10.5, 12.5, 15.0, 18.0]),
    (2015.79, [4.8, 8.0, 10.0, 12.0, 14.0]),
    (2015.82, [7.5, 9.5, 11.0, 13.0]),
    (2015.85, [8.0, 10.0, 12.0]),
    (2015.90, [11.0, 13.0, 14.0]),
    (2015.94, [10.0, 12.0]),
    (2015.98, [9.0, 11.0, 12.5]),
    (2016.02, [8.5, 10.0]),
    (2016.06, [10.0, 13.0]),
]

year_ticks = list(range(2010, 2019))
year_label_pos = [y + 0.5 for y in range(2009, 2018)]
year_labels = [str(y) for y in range(2009, 2018)]
snr_thresholds = [10, 580]
amp11_threshold = 20.0  # x 0.001


def to_frame(cols):
    rows = [(t, v) for t, vals in cols for v in vals]
    return pd.DataFrame(rows, columns=["t", "v"])


sns.set_theme(style="white")
plt.rcParams["font.family"] = ["Liberation Serif", "DejaVu Serif"]
plt.rcParams["axes.unicode_minus"] = False

W, H = 834, 628
fig = plt.figure(figsize=(W / 100, H / 100), dpi=100)
GRAY = "#999999"
FS_Y = 18
FS_X = 18.5
FS_T = 18.5
X_BASE = 621  # pixel row of the year labels' baseline


def add_ax(top, bottom):
    return fig.add_axes([81 / W, 1 - bottom / H, (740 - 81) / W, (bottom - top) / H])


axa = add_ax(53, 208)
axb = add_ax(248, 402)
axc = add_ax(448, 600)

for ax, cols in ((axa, snr_cols), (axb, amp225_cols), (axc, amp11_cols)):
    sns.scatterplot(data=to_frame(cols), x="t", y="v", ax=ax, s=18,
                    color="black", edgecolor="none", linewidth=0, legend=False)
    ax.set_xlabel("")
    ax.set_ylabel("")
    ax.set_facecolor("white")
    ax.set_xlim(2009.157, 2018.26)
    for side in ("top", "right"):
        ax.spines[side].set_visible(False)
    for side in ("left", "bottom"):
        ax.spines[side].set_color(GRAY)
        ax.spines[side].set_linewidth(1.5)
    ax.xaxis.set_major_locator(FixedLocator(year_ticks))
    ax.xaxis.set_major_formatter(NullFormatter())
    ax.tick_params(axis="x", which="major", direction="in", length=5,
                   width=1.2, color=GRAY, bottom=True)
    ax.tick_params(axis="y", which="both", direction="in", length=5,
                   width=1.2, color=GRAY, left=True, labelsize=FS_Y, pad=9,
                   labelcolor="black")
    ax.grid(False)

# panel a
for th in snr_thresholds:
    axa.axhline(th, color="#8a8a8a", lw=1.5, ls=(0, (4, 3.5)), zorder=1)
axa.set_ylim(-48, 1200)
axa.yaxis.set_major_locator(FixedLocator([0, 400, 800, 1200]))
axa.yaxis.set_major_formatter(FixedFormatter(["0", "400", "800", "1200"]))

# panel b
axb.set_ylim(-0.14, 10.76)
axb.yaxis.set_major_locator(FixedLocator([0, 4, 8]))
axb.yaxis.set_major_formatter(FixedFormatter(["0", "0.004", "0.008"]))

# panel c
axc.axhline(amp11_threshold, color="#333333", lw=1.2, ls=(0, (2, 2)), zorder=1)
axc.set_ylim(0, 49)
axc.yaxis.set_major_locator(FixedLocator([0, 20, 40]))
axc.yaxis.set_major_formatter(FixedFormatter(["0", "0.02", "0.04"]))
axc.yaxis.set_minor_locator(FixedLocator([10, 30]))
axc.xaxis.set_minor_locator(FixedLocator(year_label_pos))
axc.xaxis.set_minor_formatter(FixedFormatter(year_labels))
axc.tick_params(axis="x", which="minor", length=0, labelsize=FS_X,
                pad=(X_BASE - 600) * 0.72, labelcolor="black", bottom=True)
for tk in axc.xaxis.get_minor_ticks():
    tk.label1.set_verticalalignment("baseline")

# texts
fig.text(37 / W, 1 - 33 / H, "Сигнал/шум", fontsize=FS_T, va="baseline", ha="left")
fig.text(40 / W, 1 - 237 / H, "Амплитуда КГП 0.225", fontsize=FS_T, va="baseline", ha="left")
fig.text(40 / W, 1 - 428 / H, "Амплитуда КГП 1.1", fontsize=FS_T, va="baseline", ha="left")
fig.text(667 / W, 1 - 33 / H, "а", fontsize=FS_T, style="italic", va="baseline", ha="center")
fig.text(673 / W, 1 - 238 / H, "б", fontsize=FS_T, style="italic", va="baseline", ha="center")
fig.text(672 / W, 1 - 428 / H, "в", fontsize=FS_T, style="italic", va="baseline", ha="center")
fig.text(751 / W, 1 - X_BASE / H, "2018", fontsize=FS_X, va="baseline", ha="center")
fig.text(811 / W, 1 - X_BASE / H, "Год", fontsize=FS_X, va="baseline", ha="center")

fig.savefig("out.png", dpi=100)
